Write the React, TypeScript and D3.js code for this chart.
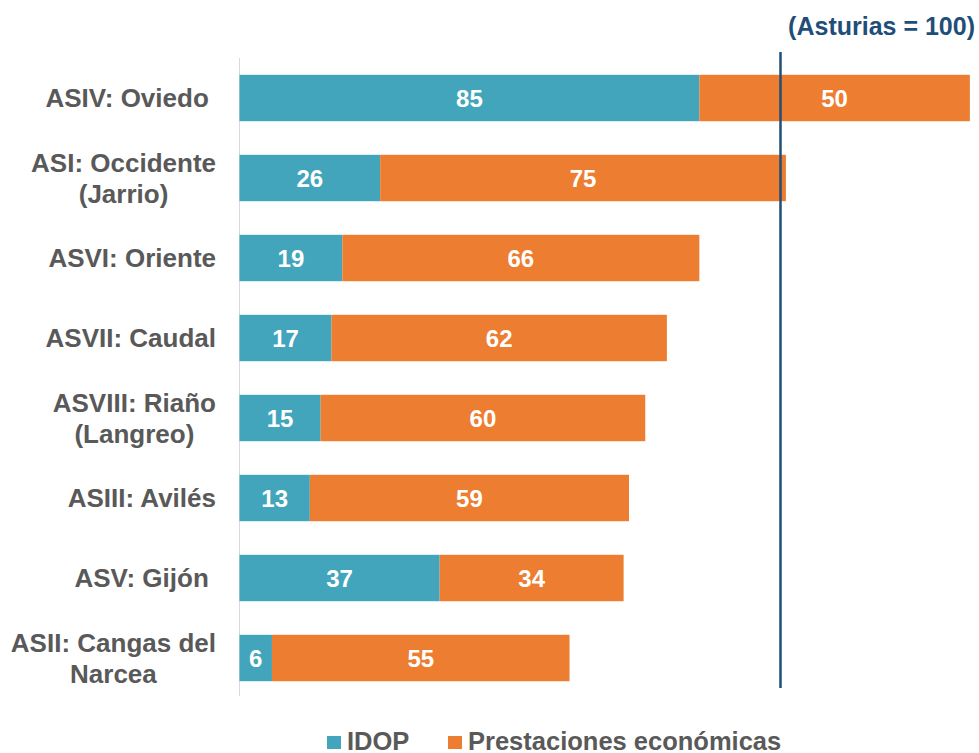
import { useEffect, useRef } from 'react';
import * as d3 from 'd3';

const categories = [
  ['ASIV: Oviedo '],
  ['ASI: Occidente', '(Jarrio)'],
  ['ASVI: Oriente'],
  ['ASVII: Caudal'],
  ['ASVIII: Riaño', '(Langreo)'],
  ['ASIII: Avilés'],
  ['ASV: Gijón '],
  ['ASII: Cangas del', 'Narcea'],
];
const idop = [85, 26, 19, 17, 15, 13, 37, 6];
const prestaciones = [50, 75, 66, 62, 60, 59, 34, 55];
const seriesNames = ['IDOP', 'Prestaciones económicas'];
const reference = 100;
const title = '(Asturias = 100)';

const colors = ['#42a5bb', '#ed7d31'];
const font = '"Liberation Sans", Arial, sans-serif';

export default function App() {
  const svgRef = useRef<SVGSVGElement>(null);

  useEffect(() => {
    document.body.style.margin = '0';
    if (!svgRef.current) return;
    const width = 979;
    const height = 753;
    const svg = d3.select(svgRef.current);
    svg.selectAll('*').remove();

    const x = d3.scaleLinear().domain([0, 100]).range([239.5, 780.5]);
    const keys = categories.map((c) => c.join(' '));
    const y = d3.scaleBand().domain(keys).range([58, 698]).paddingInner(0.42).paddingOuter(0.21);

    // axis line
    svg.append('line')
      .attr('x1', x(0)).attr('x2', x(0))
      .attr('y1', 58).attr('y2', 696)
      .attr('stroke', '#d9d9d9').attr('stroke-width', 1);

    const rows = keys.map((k, i) => ({ key: k, lines: categories[i], a: idop[i], b: prestaciones[i] }));

    const g = svg.append('g');
    rows.forEach((d) => {
      const y0 = y(d.key)!;
      const segs = [
        { x0: 0, x1: d.a, v: d.a, c: colors[0] },
        { x0: d.a, x1: d.a + d.b, v: d.b, c: colors[1] },
      ];
      segs.forEach((s) => {
        g.append('rect')
          .attr('x', x(s.x0)).attr('y', y0)
          .attr('width', x(s.x1) - x(s.x0)).attr('height', y.bandwidth())
          .attr('fill', s.c);
        g.append('text')
          .attr('x', (x(s.x0) + x(s.x1)) / 2)
          .attr('y', y0 + y.bandwidth() / 2)
          .attr('dy', '0.36em')
          .attr('text-anchor', 'middle')
          .attr('fill', '#fff')
          .style('font-family', font).style('font-weight', 'bold').style('font-size', '24px')
          .text(s.v);
      });

      // category label: lines centred on each other, block right-aligned
      const lab = svg.append('text')
        .style('font-family', font).style('font-weight', 'bold').style('font-size', '26px')
        .style('white-space', 'pre')
        .attr('fill', '#595959').attr('text-anchor', 'middle');
      const n = d.lines.length;
      const cy = y0 + y.bandwidth() / 2;
      const tspans = d.lines.map((line, j) =>
        lab.append('tspan').attr('y', cy + (j - (n - 1) / 2) * 31).attr('dy', '0.36em').text(line)
      );
      const maxW = d3.max(tspans, (t) => (t.node() as SVGTSpanElement).getComputedTextLength()) || 0;
      tspans.forEach((t) => t.attr('x', 216 - maxW / 2));
    });

    // reference line
    svg.append('line')
      .attr('x1', x(reference)).attr('x2', x(reference))
      .attr('y1', 52).attr('y2', 688)
      .attr('stroke', '#1f4e79').attr('stroke-width', 2.5);

    svg.append('text')
      .attr('x', 975).attr('y', 35)
      .attr('text-anchor', 'end')
      .attr('fill', '#1f4e79')
      .style('font-family', font).style('font-weight', 'bold').style('font-size', '25px')
      .text(title);

    // legend
    const legX = [327, 448];
    seriesNames.forEach((name, i) => {
      svg.append('rect')
        .attr('x', legX[i]).attr('y', 736)
        .attr('width', 14).attr('height', 13)
        .attr('fill', colors[i]);
      svg.append('text')
        .attr('x', legX[i] + 20).attr('y', 750)
        .attr('fill', '#595959')
        .style('font-family', font).style('font-weight', 'bold').style('font-size', '25.5px')
        .text(name);
    });

    svg.attr('width', width).attr('height', height);
  }, []);

  return <svg ref={svgRef} style={{ display: 'block' }} width={979} height={753} />;
}
